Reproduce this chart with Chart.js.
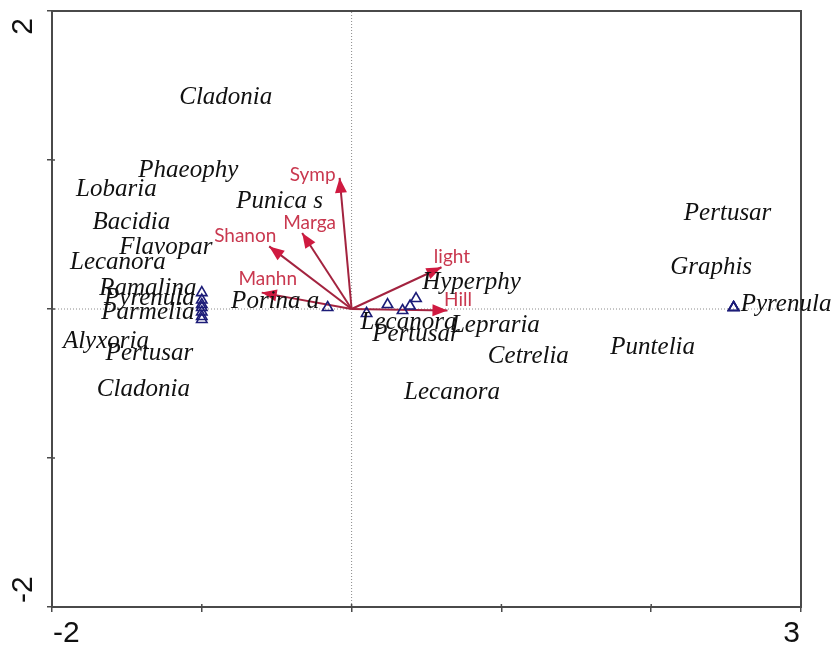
<!DOCTYPE html>
<html>
<head>
<meta charset="utf-8">
<script src="https://cdn.jsdelivr.net/npm/chart.js@4.4.1/dist/chart.umd.min.js"></script>
<style>
  html, body { margin: 0; padding: 0; background: #fff; }
  canvas { display: block; }
</style>
</head>
<body>
<canvas id="c" width="832" height="647"></canvas>
<script>
// Species scores (text labels placed at their ordination coordinates)
const speciesNames = ['Cladonia', 'Phaeophy', 'Lobaria', 'Punica s', 'Bacidia', 'Flavopar', 'Lecanora',
  'Ramalina', 'Pyrenula', 'Parmelia', 'Porina a', 'Alyxoria', 'Pertusar', 'Cladonia',
  'Hyperphy', 'Lecanora', 'Pertusar', 'Lepraria', 'Cetrelia', 'Lecanora',
  'Pertusar', 'Graphis', 'Pyrenula', 'Puntelia'];
const speciesX = [-0.84, -1.09, -1.57, -0.48, -1.47, -1.24, -1.56,
  -1.36, -1.35, -1.36, -0.51, -1.64, -1.35, -1.39,
  0.80, 0.38, 0.43, 0.96, 1.18, 0.67,
  2.51, 2.40, 2.90, 2.01];
const speciesY = [1.42, 0.93, 0.80, 0.72, 0.58, 0.41, 0.31,
  0.14, 0.07, -0.02, 0.05, -0.22, -0.30, -0.54,
  0.18, -0.09, -0.17, -0.11, -0.32, -0.56,
  0.64, 0.28, 0.03, -0.26];

// Sample (site) scores
const siteX = [-1.00, -1.00, -1.00, -1.00, -1.00, -1.00, -1.00,
  -0.16, 0.10, 0.24, 0.34, 0.39, 0.43,
  2.55, 2.55, 2.55];
const siteY = [0.11, 0.06, 0.03, 0.01, -0.02, -0.05, -0.07,
  0.01, -0.03, 0.03, -0.01, 0.02, 0.07,
  0.01, 0.01, 0.01];

// Environmental variable vectors (arrow tips) and their label positions
const envNames = ['Symp', 'Marga', 'Shanon', 'Manhn', 'light', 'Hill'];
const envX = [-0.08, -0.33, -0.55, -0.60, 0.60, 0.64];
const envY = [0.88, 0.51, 0.42, 0.11, 0.28, -0.01];
const envLabelX = [-0.26, -0.28, -0.71, -0.56, 0.67, 0.71];
const envLabelY = [0.90, 0.58, 0.49, 0.20, 0.35, 0.06];

// Axis ranges and the tick values that carry labels
const xRange = [-2, 3];
const yRange = [-2, 2];
const xTickLabels = [-2, 3];
const yTickLabels = [2, -2];

const AXIS = '#4a4a4a';
const ARROW = '#a3233f';
const ARROW_HEAD = '#cf1a40';
const ENV_TEXT = '#c9384f';
const SITE = '#1c1c78';

const datasets = [];

// dotted cross-hair through the origin
datasets.push({
  data: [{ x: 0, y: yRange[0] }, { x: 0, y: yRange[1] }],
  showLine: true, borderColor: '#8a8a8a', borderWidth: 1, borderDash: [1, 2],
  pointRadius: 0, order: 5
});
datasets.push({
  data: [{ x: xRange[0], y: 0 }, { x: xRange[1], y: 0 }],
  showLine: true, borderColor: '#8a8a8a', borderWidth: 1, borderDash: [1, 2],
  pointRadius: 0, order: 5
});

// arrow shafts
envNames.forEach((n, i) => {
  datasets.push({
    label: n,
    data: [{ x: 0, y: 0 }, { x: envX[i], y: envY[i] }],
    showLine: true, borderColor: ARROW, borderWidth: 2,
    pointRadius: 0, order: 3
  });
});

// sample triangles
datasets.push({
  label: 'samples',
  data: siteX.map((x, i) => ({ x, y: siteY[i] })),
  pointStyle: 'triangle', pointRadius: 6,
  borderColor: SITE, backgroundColor: 'rgba(0,0,0,0)', borderWidth: 1.6,
  order: 1
});

const overlay = {
  id: 'overlay',
  afterDatasetsDraw(chart) {
    const { ctx, chartArea: a, scales: { x, y } } = chart;
    ctx.save();

    // frame
    ctx.strokeStyle = AXIS;
    ctx.lineWidth = 2;
    ctx.strokeRect(a.left, a.top, a.right - a.left, a.bottom - a.top);

    // inner part of the tick marks (ticks cross the axis line)
    ctx.lineWidth = 1.5;
    ctx.beginPath();
    x.ticks.forEach(t => {
      const px = x.getPixelForValue(t.value);
      ctx.moveTo(px, a.bottom); ctx.lineTo(px, a.bottom - 3);
    });
    y.ticks.forEach(t => {
      const py = y.getPixelForValue(t.value);
      ctx.moveTo(a.left, py); ctx.lineTo(a.left + 3, py);
    });
    ctx.stroke();

    // arrow heads
    const ox = x.getPixelForValue(0), oy = y.getPixelForValue(0);
    ctx.fillStyle = ARROW_HEAD;
    envNames.forEach((n, i) => {
      const tx = x.getPixelForValue(envX[i]), ty = y.getPixelForValue(envY[i]);
      const ang = Math.atan2(ty - oy, tx - ox);
      const L = 15, W = 6;
      ctx.beginPath();
      ctx.moveTo(tx, ty);
      ctx.lineTo(tx - L * Math.cos(ang) + W * Math.sin(ang), ty - L * Math.sin(ang) - W * Math.cos(ang));
      ctx.lineTo(tx - L * Math.cos(ang) - W * Math.sin(ang), ty - L * Math.sin(ang) + W * Math.cos(ang));
      ctx.closePath();
      ctx.fill();
    });

    // environmental labels
    ctx.fillStyle = ENV_TEXT;
    ctx.font = '19px Lato';
    ctx.textAlign = 'center';
    ctx.textBaseline = 'middle';
    envNames.forEach((n, i) => {
      ctx.fillText(n, x.getPixelForValue(envLabelX[i]), y.getPixelForValue(envLabelY[i]));
    });

    // species labels
    ctx.fillStyle = '#111';
    ctx.font = 'italic 25px "Liberation Serif"';
    speciesNames.forEach((n, i) => {
      ctx.fillText(n, x.getPixelForValue(speciesX[i]), y.getPixelForValue(speciesY[i]));
    });

    // axis numbers
    ctx.fillStyle = '#111';
    ctx.font = '30px "Liberation Sans"';
    ctx.textBaseline = 'top';
    xTickLabels.forEach((v, i) => {
      ctx.textAlign = i === 0 ? 'left' : 'right';
      ctx.fillText(String(v), x.getPixelForValue(v) + (i === 0 ? 1 : -1), a.bottom + 12);
    });
    yTickLabels.forEach((v, i) => {
      ctx.save();
      const py = y.getPixelForValue(v);
      ctx.translate(24, i === 0 ? py + 7 : py - 4);
      ctx.rotate(-Math.PI / 2);
      ctx.textAlign = i === 0 ? 'right' : 'left';
      ctx.textBaseline = 'middle';
      ctx.fillText(String(v), 0, 0);
      ctx.restore();
    });
    ctx.restore();
  }
};

new Chart(document.getElementById('c'), {
  type: 'scatter',
  data: { datasets },
  options: {
    responsive: false,
    animation: false,
    events: [],
    layout: { padding: { top: 11, right: 31, left: 0, bottom: 0 } },
    plugins: { legend: { display: false }, tooltip: { enabled: false } },
    scales: {
      x: {
        type: 'linear', min: xRange[0], max: xRange[1],
        ticks: { stepSize: 1, display: false },
        grid: { drawOnChartArea: false, drawTicks: true, tickLength: 5, color: AXIS, lineWidth: 1.5 },
        border: { display: true, color: AXIS, width: 2 },
        afterFit(s) { s.height = 40; }
      },
      y: {
        type: 'linear', min: yRange[0], max: yRange[1],
        ticks: { stepSize: 1, display: false },
        grid: { drawOnChartArea: false, drawTicks: true, tickLength: 5, color: AXIS, lineWidth: 1.5 },
        border: { display: true, color: AXIS, width: 2 },
        afterFit(s) { s.width = 52; }
      }
    }
  },
  plugins: [overlay]
});
</script>
</body>
</html>
